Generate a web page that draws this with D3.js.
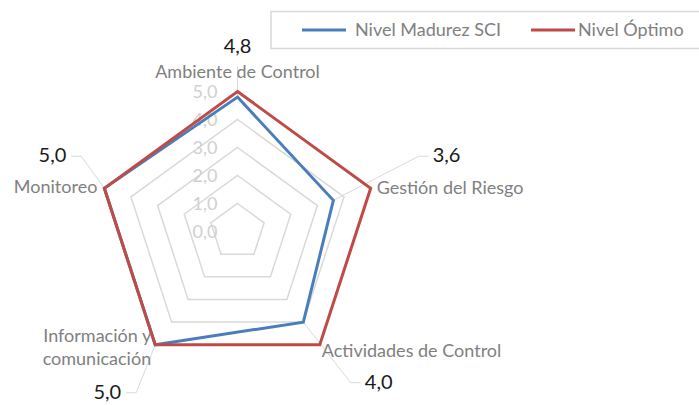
<!DOCTYPE html>
<html>
<head>
<meta charset="utf-8">
<script src="https://cdn.jsdelivr.net/npm/d3@7"></script>
<style>
  body { margin: 0; background: #ffffff; }
  svg text { font-family: Lato, "Open Sans", sans-serif; }
</style>
</head>
<body>
<script>
// categories of the radar, clockwise from the top
var categories = ["Ambiente de Control", "Gestión del Riesgo", "Actividades de Control",
                  "Información y comunicación", "Monitoreo"];
// series values
var madurez = [4.8, 3.6, 4.0, 5.0, 5.0];
var optimo = [5.0, 5.0, 5.0, 5.0, 5.0];
var seriesNames = ["Nivel Madurez SCI", "Nivel Óptimo"];
// radial axis ticks
var tickValues = [0, 1, 2, 3, 4, 5];

var width = 699, height = 405;
var cx = 237.5, cy = 231.5;

var svg = d3.select("body").append("svg")
    .attr("width", width)
    .attr("height", height);

var r = d3.scaleLinear().domain([0, 5]).range([0, 140]);
var angle = d3.scaleLinear().domain([0, categories.length]).range([0, 2 * Math.PI]);

var fmt = function(v) { return d3.format(".1f")(v).replace(".", ","); };

// point for category i at value v
function pt(i, v) {
  var a = angle(i);
  return [cx + r(v) * Math.sin(a), cy - r(v) * Math.cos(a)];
}

var radarLine = d3.line().curve(d3.curveLinearClosed);

// grid pentagons
svg.append("g").selectAll("path")
  .data(tickValues.slice(1))
  .enter().append("path")
  .attr("d", function(t) { return radarLine(categories.map(function(c, i) { return pt(i, t); })); })
  .attr("fill", "none")
  .attr("stroke", "#d9d9d9")
  .attr("stroke-width", 1.5);

// label layout per category: anchor, offset from outer vertex for the category name and for the value
var labelLayout = [
  {anchor: "middle", dx: 0, dy: -14, vdx: 0, vdy: -39, vanchor: "middle"},
  {anchor: "start", dx: 6, dy: 6, vdx: 62, vdy: -26, vanchor: "start"},
  {anchor: "start", dx: 2, dy: 12, vdx: 45, vdy: 44, vanchor: "start"},
  {anchor: "end", dx: -4, dy: -3, vdx: -34, vdy: 54, vanchor: "end"},
  {anchor: "end", dx: -7, dy: 5, vdx: -38, vdy: -26, vanchor: "end"}
];

// leader lines from value labels to the blue points
var leaders = svg.append("g")
  .attr("fill", "none")
  .attr("stroke", "#d9d9d9")
  .attr("stroke-width", 1);

categories.forEach(function(c, i) {
  var o = pt(i, 5), p = pt(i, madurez[i]), L = labelLayout[i];
  var lx = o[0] + L.vdx, ly = o[1] + L.vdy - 6;
  var pts;
  if (L.vanchor == "middle") {
    pts = [[lx, ly + 20], p];
  } else if (L.vanchor == "start") {
    pts = [[lx - 4, ly], [lx - 14, ly], p];
  } else {
    pts = [[lx + 5, ly], [lx + 15, ly], p];
  }
  leaders.append("path").attr("d", d3.line()(pts));
});

// tick labels
svg.append("g").selectAll("text")
  .data(tickValues)
  .enter().append("text")
  .attr("x", cx - 20)
  .attr("y", function(t) { return cy - r(t) + 6; })
  .attr("text-anchor", "end")
  .attr("fill", "#d0d0d0")
  .style("font-size", "18px")
  .text(function(t) { return fmt(t); });

// series
var colors = ["#4a7ebb", "#be4b48"];
[madurez, optimo].forEach(function(s, k) {
  svg.append("path")
    .attr("d", radarLine(s.map(function(v, i) { return pt(i, v); })))
    .attr("fill", "none")
    .attr("stroke", colors[k])
    .attr("stroke-width", 3)
    .attr("stroke-linejoin", "miter");
});

// category labels
categories.forEach(function(c, i) {
  var o = pt(i, 5), L = labelLayout[i];
  var words = c == "Información y comunicación" ? ["Información y", "comunicación"] : [c];
  var t = svg.append("text")
    .attr("x", o[0] + L.dx)
    .attr("y", o[1] + L.dy)
    .attr("text-anchor", L.anchor)
    .attr("fill", "#808080")
    .style("font-size", "18px");
  words.forEach(function(w, j) {
    t.append("tspan").attr("x", o[0] + L.dx).attr("dy", j == 0 ? 0 : 23).text(w);
  });
  // value label
  svg.append("text")
    .attr("x", o[0] + L.vdx)
    .attr("y", o[1] + L.vdy)
    .attr("text-anchor", L.vanchor)
    .attr("fill", "#1a1a1a")
    .style("font-size", "20px")
    .text(fmt(madurez[i]));
});

// legend
var legend = svg.append("g");
legend.append("rect")
  .attr("x", 271).attr("y", 11.5)
  .attr("width", 440).attr("height", 37)
  .attr("fill", "#ffffff")
  .attr("stroke", "#d9d9d9")
  .attr("stroke-width", 1.5);
var legendX = [302, 531];
seriesNames.forEach(function(n, k) {
  legend.append("line")
    .attr("x1", legendX[k]).attr("x2", legendX[k] + 44)
    .attr("y1", 30).attr("y2", 30)
    .attr("stroke", colors[k]).attr("stroke-width", 3);
  legend.append("text")
    .attr("x", legendX[k] + (k == 0 ? 53 : 47))
    .attr("y", 36)
    .attr("fill", "#808080")
    .style("font-size", "18px")
    .text(n);
});
</script>
</body>
</html>
